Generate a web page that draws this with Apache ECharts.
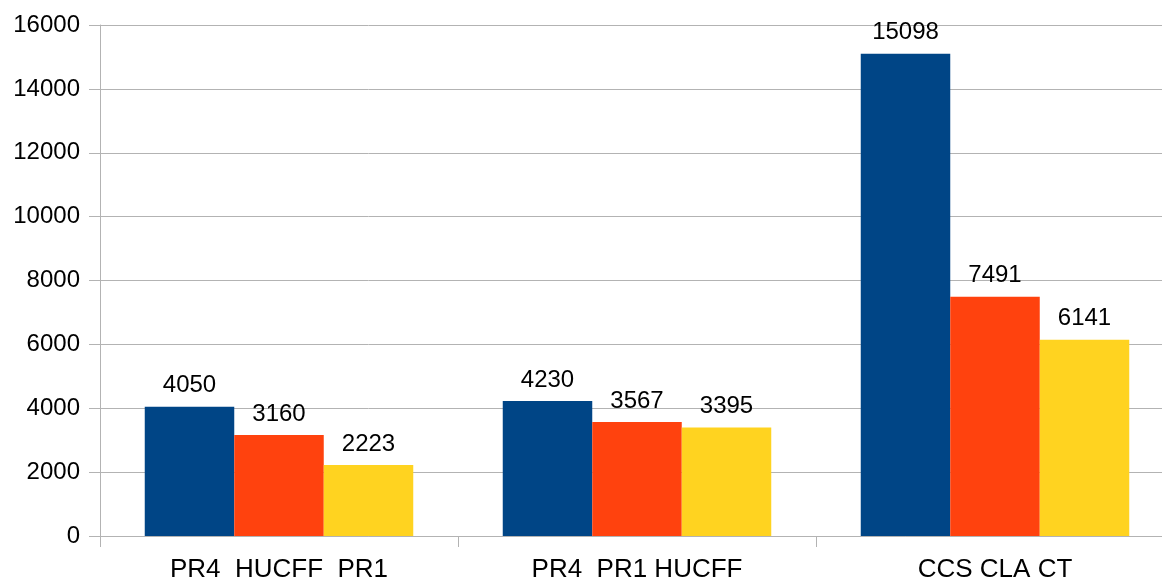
<!DOCTYPE html>
<html>
<head>
<meta charset="utf-8">
<script src="https://cdn.jsdelivr.net/npm/echarts@6/dist/echarts.min.js"></script>
<style>
  html, body { margin: 0; padding: 0; background: #fff; overflow: hidden; width: 1162px; height: 583px; }
  #chart { width: 1174px; height: 583px; }
</style>
</head>
<body>
<div id="chart"></div>
<script>
// Group labels along the x axis
var categories = ['PR4  HUCFF  PR1', 'PR4  PR1 HUCFF', 'CCS CLA CT'];
// Values per group: first, second and third bar of each group
var firstBar  = [4050, 4230, 15098];
var secondBar = [3160, 3567, 7491];
var thirdBar  = [2223, 3395, 6141];
var yTicks = { min: 0, max: 16000, interval: 2000 };

var colors = ['#004586', '#ff420e', '#ffd320'];
var font = 'Liberation Sans, Arial, sans-serif';
var grey = '#b3b3b3';

function barSeries(values, color) {
  return {
    type: 'bar',
    data: values,
    barWidth: '25%',
    barGap: '0%',
    itemStyle: { color: color },
    label: {
      show: true,
      position: 'top',
      distance: 9,
      color: '#000',
      fontFamily: font,
      fontSize: 24
    }
  };
}

// The plot runs slightly past the right edge of the page, which clips it
var chart = echarts.init(document.getElementById('chart'), null, { renderer: 'canvas' });
chart.setOption({
  animation: false,
  backgroundColor: '#fff',
  grid: { left: 100, top: 25, bottom: 46, right: 0, containLabel: false },
  xAxis: {
    type: 'category',
    data: categories,
    axisLine: { show: true, lineStyle: { color: grey, width: 1 } },
    axisTick: { show: true, length: 11, lineStyle: { color: grey } },
    axisLabel: { color: '#000', fontFamily: font, fontSize: 26, margin: 21 },
    splitLine: { show: false }
  },
  yAxis: {
    type: 'value',
    min: yTicks.min,
    max: yTicks.max,
    interval: yTicks.interval,
    axisLine: { show: true, lineStyle: { color: grey, width: 1 } },
    axisTick: { show: true, length: 11, lineStyle: { color: grey } },
    axisLabel: {
      color: '#000', fontFamily: font, fontSize: 24, margin: 20,
      formatter: function (v) { return String(v); }
    },
    splitLine: { show: true, lineStyle: { color: grey, width: 1 } }
  },
  series: [
    barSeries(firstBar, colors[0]),
    barSeries(secondBar, colors[1]),
    barSeries(thirdBar, colors[2])
  ]
});
</script>
</body>
</html>
